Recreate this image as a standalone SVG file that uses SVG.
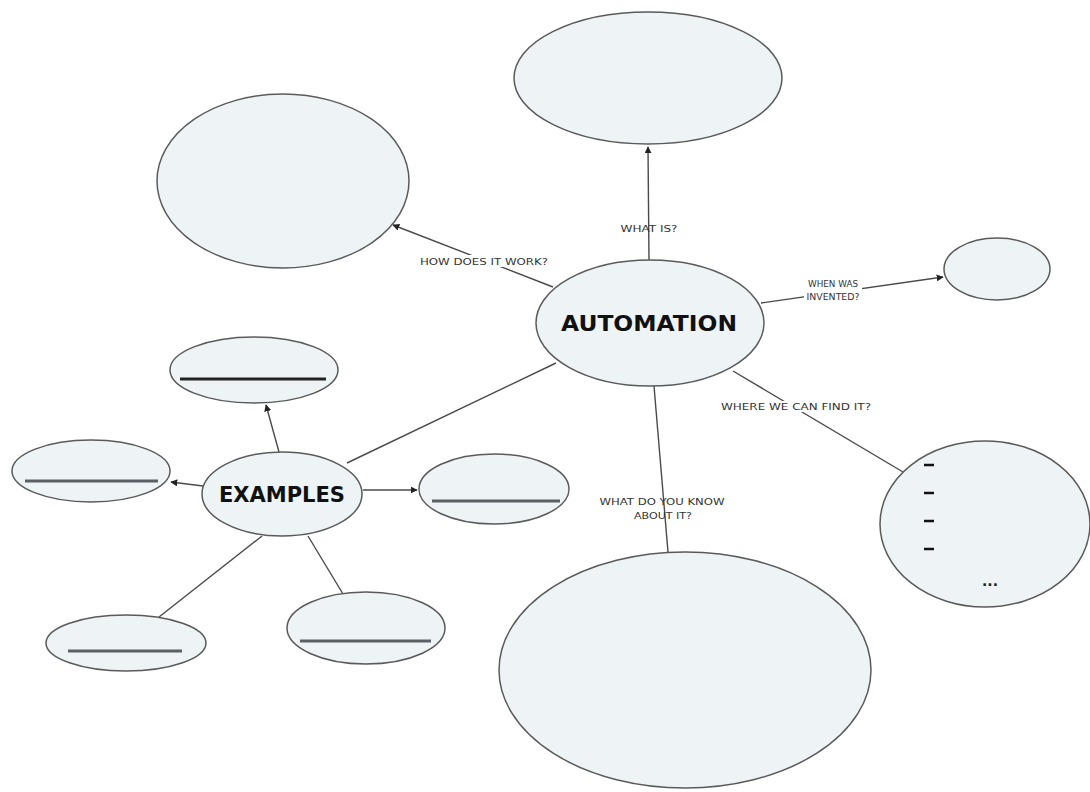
<svg xmlns="http://www.w3.org/2000/svg" width="1090" height="792" viewBox="0 0 1090 792">
<style>
.n{fill:#eef3f6;stroke:#5a5a5a;stroke-width:1.5}
.c{stroke:#4a4a4a;stroke-width:1.4;fill:none}
.u{stroke:#5a6066;stroke-width:3}
.l{font-family:"DejaVu Sans",sans-serif;font-size:9px;fill:#333;text-anchor:middle}
.b{font-family:"DejaVu Sans",sans-serif;font-weight:bold;fill:#111;text-anchor:middle}
.bg{fill:#fff}
</style>
<defs>
<marker id="a" viewBox="0 0 10 10" refX="9" refY="5" markerWidth="7" markerHeight="7" orient="auto" markerUnits="userSpaceOnUse">
<path d="M0,0 L10,5 L0,10 z" fill="#222"/>
</marker>
</defs>
<rect width="1090" height="792" fill="#fff"/>
<g id="connectors">
<line class="c" x1="649" y1="260" x2="648" y2="147" marker-end="url(#a)"/>
<line class="c" x1="553" y1="287" x2="393" y2="225" marker-end="url(#a)"/>
<line class="c" x1="761" y1="303" x2="943" y2="277" marker-end="url(#a)"/>
<line class="c" x1="733" y1="371" x2="903" y2="472"/>
<line class="c" x1="654" y1="386" x2="668" y2="552"/>
<line class="c" x1="556" y1="363" x2="347" y2="463"/>
<line class="c" x1="279" y1="452" x2="266" y2="405" marker-end="url(#a)"/>
<line class="c" x1="203" y1="486" x2="171" y2="482" marker-end="url(#a)"/>
<line class="c" x1="363" y1="490" x2="417" y2="490" marker-end="url(#a)"/>
<line class="c" x1="262" y1="536" x2="159" y2="617"/>
<line class="c" x1="308" y1="536" x2="343" y2="594"/>
<rect class="bg" x="418" y="255" width="132" height="12"/>
<text class="l" x="484" y="265" textLength="128" lengthAdjust="spacingAndGlyphs">HOW DOES IT WORK?</text>
<text class="l" x="649" y="232" textLength="57" lengthAdjust="spacingAndGlyphs">WHAT IS?</text>
<rect class="bg" x="804" y="278" width="58" height="24"/>
<text class="l" x="833" y="287" textLength="50" lengthAdjust="spacingAndGlyphs">WHEN WAS</text>
<text class="l" x="833" y="300" textLength="53" lengthAdjust="spacingAndGlyphs">INVENTED?</text>
<rect class="bg" x="718" y="401" width="155" height="11"/>
<text class="l" x="796" y="410" textLength="150" lengthAdjust="spacingAndGlyphs">WHERE WE CAN FIND IT?</text>
<text class="l" x="662" y="505" textLength="125" lengthAdjust="spacingAndGlyphs">WHAT DO YOU KNOW</text>
<text class="l" x="663" y="519" textLength="58" lengthAdjust="spacingAndGlyphs">ABOUT IT?</text>
</g>
<g id="what-is"><ellipse class="n" cx="648" cy="78" rx="134" ry="66"/></g>
<g id="how-works"><ellipse class="n" cx="283" cy="181" rx="126" ry="87"/></g>
<g id="when-invented"><ellipse class="n" cx="997" cy="269" rx="53" ry="31"/></g>
<g id="automation"><ellipse class="n" cx="650" cy="323" rx="114" ry="63"/>
<text class="b" x="649" y="331" font-size="22" textLength="176" lengthAdjust="spacingAndGlyphs">AUTOMATION</text></g>
<g id="ex-top"><ellipse class="n" cx="254" cy="370" rx="84" ry="33"/><line class="u" x1="180" y1="379" x2="326" y2="379" style="stroke:#222"/></g>
<g id="ex-left"><ellipse class="n" cx="91" cy="471" rx="79" ry="31"/><line class="u" x1="25" y1="481" x2="158" y2="481"/></g>
<g id="examples"><ellipse class="n" cx="282" cy="494" rx="80" ry="42"/>
<text class="b" x="282" y="502" font-size="21" textLength="126" lengthAdjust="spacingAndGlyphs">EXAMPLES</text></g>
<g id="ex-right"><ellipse class="n" cx="494" cy="489" rx="75" ry="35"/><line class="u" x1="432" y1="501" x2="560" y2="501"/></g>
<g id="ex-bottom-left"><ellipse class="n" cx="126" cy="643" rx="80" ry="28"/><line class="u" x1="68" y1="651" x2="182" y2="651"/></g>
<g id="ex-bottom-mid"><ellipse class="n" cx="366" cy="628" rx="79" ry="36"/><line class="u" x1="300" y1="641" x2="431" y2="641"/></g>
<g id="know"><ellipse class="n" cx="685" cy="670" rx="186" ry="118"/></g>
<g id="find"><ellipse class="n" cx="985" cy="524" rx="105" ry="83"/>
<g stroke="#111" stroke-width="2.5"><line x1="924" y1="465" x2="934" y2="465"/><line x1="924" y1="493" x2="934" y2="493"/><line x1="924" y1="521" x2="934" y2="521"/><line x1="924" y1="549" x2="934" y2="549"/></g>
<text x="990" y="586" font-family="DejaVu Sans, sans-serif" font-size="14" font-weight="bold" fill="#222" text-anchor="middle">...</text></g>
</svg>
